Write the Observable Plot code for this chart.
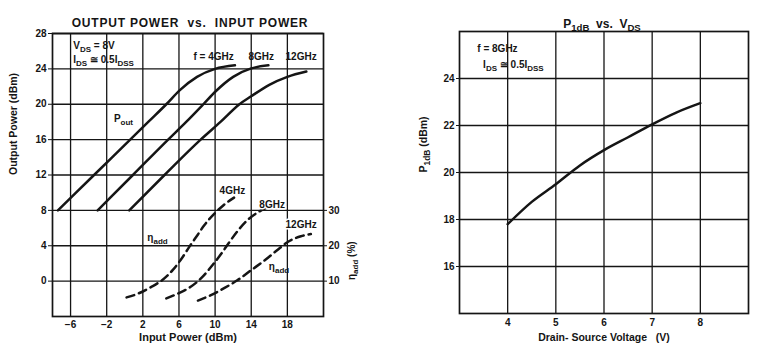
<!DOCTYPE html>
<html>
<head>
<meta charset="utf-8">
<script src="https://cdn.jsdelivr.net/npm/d3@7"></script>
<script src="https://cdn.jsdelivr.net/npm/@observablehq/plot@0.6"></script>
<style>
  html, body { margin: 0; padding: 0; background: #fff; }
  #wrap { position: relative; width: 764px; height: 351px; overflow: hidden; background: #fff; }
  #left, #right { position: absolute; top: 0; }
  #left { left: 0; }
  #right { left: 380px; }
</style>
</head>
<body>
<div id="wrap"><div id="left"></div><div id="right"></div></div>
<script>
// ---------- Data: Output power vs input power ----------
const freqs = ["4GHz", "8GHz", "12GHz"];
const pinTicks = [-6, -2, 2, 6, 10, 14, 18];
const poutTicks = [0, 4, 8, 12, 16, 20, 24, 28];
const etaTicks = [10, 20, 30];

const pin4  = [-7.4, -3.4, 0.6, 2.6, 4.6, 6.1, 8.0, 10.0, 12.2];
const pout4 = [8, 12, 16, 18, 20, 21.6, 23.1, 24.0, 24.4];
const pin8  = [-3.0, 0.9, 4.8, 6.8, 8.7, 10.1, 12.0, 14.0, 15.9];
const pout8 = [8, 12, 16, 18, 20, 21.5, 23.1, 24.05, 24.4];
const pin12  = [0.5, 4.4, 8.4, 10.6, 12.7, 14.0, 16.0, 18.0, 20.1];
const pout12 = [8, 12, 16, 18, 20, 20.9, 22.2, 23.1, 23.7];

const etaPin4 = [0.2, 1.5, 2.9, 4.2, 5.3, 6.3, 7.2, 8.1, 8.8, 9.9, 10.9, 12.1];
const eta4    = [5.4, 6.5, 8.3, 10.4, 13.1, 16.4, 19.9, 23.2, 25.8, 29.0, 31.4, 33.6];
const etaPin8 = [4.6, 5.9, 7.3, 8.6, 9.7, 10.7, 11.6, 12.5, 13.6, 14.9, 16.2];
const eta8    = [5.1, 6.5, 8.4, 11.2, 14.5, 17.8, 21.1, 24.2, 27.3, 29.7, 31.3];
const etaPin12 = [8.1, 9.6, 11.0, 12.5, 14.0, 15.5, 16.9, 18.0, 19.5, 20.6];
const eta12    = [4.5, 6.1, 8.0, 10.3, 13.1, 15.9, 18.8, 21.0, 22.7, 23.3];

// ---------- Data: P1dB vs VDS ----------
const vdsTicks = [4, 5, 6, 7, 8];
const p1dbTicks = [16, 18, 20, 22, 24];
const vds  = [4.0, 4.5, 5.0, 5.5, 6.0, 6.5, 7.0, 7.5, 8.0];
const p1db = [17.8, 18.75, 19.5, 20.3, 20.95, 21.5, 22.05, 22.55, 22.95];

// ---------- build tables ----------
const poutSeries = [[pin4, pout4], [pin8, pout8], [pin12, pout12]];
const etaSeries = [[etaPin4, eta4], [etaPin8, eta8], [etaPin12, eta12]];
const poutData = poutSeries.flatMap(([xs, ys], i) => xs.map((x, j) => ({f: freqs[i], pin: x, pout: ys[j]})));
const etaData = etaSeries.flatMap(([xs, ys], i) => xs.map((x, j) => ({f: freqs[i], pin: x, eta: ys[j]})));
const etaToPout = (e) => (e - 10) / 2.5;   // right axis: 10% at 0 dBm, 30% at 8 dBm
const p1Data = vds.map((v, i) => ({vds: v, p: p1db[i]}));

const INK = "#151515";
const FONT = "'Liberation Sans', Arial, Helvetica, sans-serif";

// subscript helper: "V_{DS}" -> V<tspan>DS</tspan>
function subscripts(svg) {
  d3.select(svg).selectAll("text").each(function () {
    const t = this.textContent;
    if (t.startsWith("OUTPUT POWER")) d3.select(this).attr("letter-spacing", "0.8px");
    if (!t.includes("_{")) return;
    const parts = t.split(/(_\{[^}]*\})/).filter(p => p.length);
    const sel = d3.select(this);
    sel.text(null);
    let shifted = false;
    for (const p of parts) {
      if (p.startsWith("_{")) {
        sel.append("tspan").attr("dy", shifted ? 0 : 3).attr("font-size", "80%").text(p.slice(2, -1));
        shifted = true;
      } else {
        sel.append("tspan").attr("dy", shifted ? -3 : 0).text(p);
        shifted = false;
      }
    }
  });
  return svg;
}

const left = Plot.plot({
  width: 380, height: 351,
  marginLeft: 52, marginRight: 57, marginTop: 33, marginBottom: 35,
  x: {domain: [-8, 22]},
  y: {domain: [-4, 28]},
  style: {fontFamily: FONT, fontSize: "10px", color: INK, background: "#fff", overflow: "visible"},
  marks: [
    Plot.gridX(pinTicks, {stroke: INK, strokeOpacity: 1, strokeWidth: 1.3}),
    Plot.gridY(poutTicks, {stroke: INK, strokeOpacity: 1, strokeWidth: 1.3}),
    Plot.frame({stroke: INK, strokeWidth: 1.7}),
    Plot.line(poutData, {x: "pin", y: "pout", z: "f", curve: "monotone-x", stroke: INK, strokeWidth: 2.5}),
    Plot.line(etaData, {x: "pin", y: d => etaToPout(d.eta), z: "f", curve: "monotone-x", stroke: INK, strokeWidth: 2.5, strokeDasharray: "8,5"}),
    Plot.axisY(poutTicks, {anchor: "left", tickSize: 4, tickPadding: 2, label: null, fontWeight: "bold", stroke: INK}),
    Plot.axisX(pinTicks, {anchor: "bottom", tickSize: 0, tickPadding: 4, label: null, fontWeight: "bold"}),
    Plot.axisY(etaTicks.map(etaToPout), {anchor: "right", tickSize: 3, tickPadding: 2, label: null, fontWeight: "bold", tickFormat: d => String(Math.round(d * 2.5 + 10))}),
    // titles and axis labels
    Plot.text(["OUTPUT POWER  vs.  INPUT POWER"], {frameAnchor: "top", dy: -15, dx: 2, fontSize: 12, fontWeight: "bold", fill: INK}),
    Plot.text(["Output Power (dBm)"], {frameAnchor: "left", rotate: -90, dx: -39, fontSize: 10.5, fontWeight: "bold", fill: INK}),
    Plot.text(["Input Power (dBm)"], {frameAnchor: "bottom", dy: 24, fontSize: 11, fontWeight: "bold", fill: INK}),
    Plot.text(["η_{add} (%)"], {frameAnchor: "right", y: [4.5], rotate: -90, dx: 28, fontWeight: "bold", fill: INK}),
    // annotations
    Plot.text(["V_{DS} = 8V"], {x: [-5.7], y: [26.6], textAnchor: "start", fontWeight: "bold", fill: INK}),
    Plot.text(["I_{DS} ≅ 0.5I_{DSS}"], {x: [-5.7], y: [25.0], textAnchor: "start", fontWeight: "bold", fill: INK}),
    Plot.text(["f = 4GHz", "8GHz", "12GHz"], {x: [7.6, 13.7, 17.8], y: [25.4, 25.4, 25.4], textAnchor: "start", fontWeight: "bold", fill: INK}),
    Plot.text(["P_{out}"], {x: [-1.2], y: [18.4], textAnchor: "start", fontWeight: "bold", fill: INK}),
    Plot.text(["4GHz", "8GHz", "12GHz"], {x: [10.5, 14.9, 17.8], y: [10.25, 8.6, 6.35], textAnchor: "start", fontWeight: "bold", fill: INK, stroke: "#fff", strokeWidth: 3, paintOrder: "stroke"}),
    Plot.text(["η_{add}", "η_{add}"], {x: [2.5, 15.95], y: [4.9, 1.6], textAnchor: "start", fontWeight: "bold", fill: INK})
  ]
});

const right = Plot.plot({
  width: 384, height: 351,
  marginLeft: 79, marginRight: 16, marginTop: 31, marginBottom: 38,
  x: {domain: [3, 9]},
  y: {domain: [14, 26]},
  style: {fontFamily: FONT, fontSize: "10px", color: INK, background: "#fff", overflow: "visible"},
  marks: [
    Plot.gridX(vdsTicks, {stroke: INK, strokeOpacity: 1, strokeWidth: 1.3}),
    Plot.gridY(p1dbTicks, {stroke: INK, strokeOpacity: 1, strokeWidth: 1.3}),
    Plot.frame({stroke: INK, strokeWidth: 1.7}),
    Plot.line(p1Data, {x: "vds", y: "p", curve: "monotone-x", stroke: INK, strokeWidth: 2.5}),
    Plot.axisY(p1dbTicks, {anchor: "left", tickSize: 3, tickPadding: 2, label: null, fontWeight: "bold"}),
    Plot.axisX(vdsTicks, {anchor: "bottom", tickSize: 0, tickPadding: 5, label: null, fontWeight: "bold"}),
    Plot.text(["P_{1dB}  vs.  V_{DS}"], {frameAnchor: "top", dy: -12, dx: -2, fontSize: 12, fontWeight: "bold", fill: INK}),
    Plot.text(["P_{1dB} (dBm)"], {frameAnchor: "left", rotate: -90, dx: -36, fontSize: 10.5, fontWeight: "bold", fill: INK}),
    Plot.text(["Drain- Source Voltage   (V)"], {frameAnchor: "bottom", dy: 27, fontSize: 10.5, fontWeight: "bold", fill: INK}),
    Plot.text(["f = 8GHz"], {x: [3.37], y: [25.27], textAnchor: "start", fontWeight: "bold", fill: INK}),
    Plot.text(["I_{DS} ≅ 0.5I_{DSS}"], {x: [3.49], y: [24.6], textAnchor: "start", fontWeight: "bold", fill: INK})
  ]
});

document.getElementById("left").appendChild(subscripts(left));
document.getElementById("right").appendChild(subscripts(right));
</script>
</body>
</html>
